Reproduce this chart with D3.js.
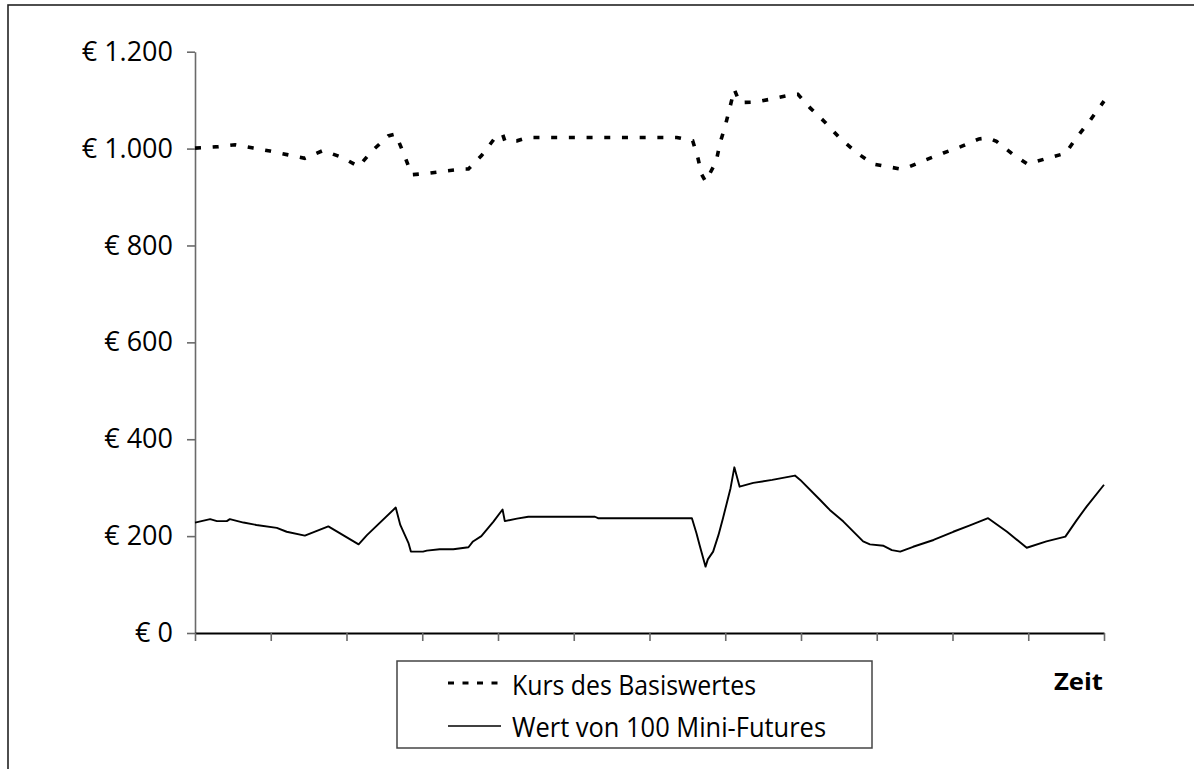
<!DOCTYPE html>
<html>
<head>
<meta charset="utf-8">
<script src="https://cdn.jsdelivr.net/npm/d3@7"></script>
<style>
  html, body { margin: 0; padding: 0; background: #fff; }
  svg { display: block; }
  text { font-family: "Open Sans", "Noto Sans", sans-serif; fill: #000; }
</style>
</head>
<body>
<svg id="chart" width="1194" height="769"></svg>
<script>
// ---- Data (time in days, values in €) ----
const seriesNames = ["Kurs des Basiswertes", "Wert von 100 Mini-Futures"];
const xLabel = "Zeit";
const yTickValues = [0, 200, 400, 600, 800, 1000, 1200];
const xTickValues = [0, 10, 20, 30, 40, 50, 60, 70, 80, 90, 100, 110, 120];

const kursDays = [0, 3.1, 5.3, 7.7, 9.9, 12.3, 14.5, 16.9, 19.4, 21.6, 23.3, 25.5, 26.5, 26.8, 27.7, 28.6, 30.8, 33.2, 35.6, 36.1, 37.8, 39.6, 40.6, 40.9, 42.5, 44.0, 63.6, 65.7, 66.4, 66.9, 67.4, 68.8, 69.3, 70.0, 70.6, 71.2, 71.9, 74.0, 76.3, 78.7, 79.6, 81.2, 83.2, 85.1, 87.4, 89.5, 92.0, 93.1, 94.2, 96.5, 98.8, 101.1, 103.5, 104.7, 105.8, 107.9, 109.9, 112.3, 114.6, 114.9, 116.4, 118.2, 120];
const kursValues = [1001, 1004, 1008, 1001, 995, 987, 980, 996, 982, 963, 994, 1026, 1030, 1018, 984, 946, 949, 954, 958, 958, 985, 1022, 1030, 1016, 1016, 1023, 1023, 1016, 980, 946, 932, 973, 1011, 1047, 1084, 1122, 1095, 1096, 1103, 1111, 1112, 1084, 1054, 1022, 991, 968, 961, 958, 962, 977, 991, 1004, 1020, 1022, 1015, 989, 968, 979, 989, 990, 1023, 1059, 1098];

const miniDays = [0, 2.0, 2.9, 4.2, 4.6, 6.4, 8.1, 10.8, 12.1, 14.5, 17.6, 21.6, 22.7, 26.5, 27.1, 28.2, 28.5, 30.1, 30.6, 32.3, 34.1, 36.1, 36.7, 37.8, 39.4, 40.6, 40.9, 42.5, 44.0, 52.8, 53.2, 65.6, 66.2, 66.6, 67.4, 67.7, 68.4, 69.1, 69.7, 70.2, 70.7, 71.2, 71.9, 73.7, 76.2, 79.2, 79.9, 82.5, 83.8, 85.6, 88.2, 89.1, 90.9, 92.0, 93.1, 94.8, 97.5, 100.1, 102.3, 104.7, 107.2, 109.8, 112.4, 114.9, 116.4, 117.7, 120];
const miniValues = [228, 235, 231, 231, 235, 228, 223, 217, 209, 201, 220, 183, 202, 259, 223, 185, 168, 168, 170, 173, 173, 177, 189, 200, 230, 255, 231, 236, 240, 240, 237, 237, 206, 182, 137, 152, 168, 202, 237, 268, 299, 342, 302, 310, 316, 325, 316, 275, 254, 230, 189, 183, 180, 171, 168, 178, 192, 209, 222, 237, 209, 176, 189, 199, 233, 261, 306];

// ---- Layout ----
const svg = d3.select("#chart");
const plot = { left: 195, right: 1104, top: 51.7, bottom: 633 };

// outer frame (right and bottom edges outside the picture)
svg.append("rect")
  .attr("x", 8).attr("y", 5).attr("width", 1300).attr("height", 900)
  .attr("fill", "none").attr("stroke", "#222").attr("stroke-width", 1.6);

const x = d3.scaleLinear().domain([0, 120]).range([plot.left, plot.right]);
const y = d3.scaleLinear().domain([0, 1200]).range([plot.bottom, plot.top]);

const de = d3.formatLocale({ decimal: ",", thousands: ".", grouping: [3], currency: ["", " €"] });
const fmt = de.format(",");

// Y axis
const yAxis = svg.append("g")
  .attr("transform", `translate(${plot.left},0)`)
  .call(d3.axisLeft(y).tickValues(yTickValues).tickSize(8).tickPadding(14)
    .tickSizeOuter(0).tickFormat(d => "€ " + fmt(d)));
yAxis.select(".domain").attr("stroke", "#6a6a6a").attr("stroke-width", 1.6);
yAxis.selectAll(".tick line").attr("stroke", "#6a6a6a").attr("stroke-width", 1.6);
yAxis.selectAll(".tick text").attr("font-size", 27).attr("font-family", "'Open Sans', sans-serif").attr("fill", "#000");

// X axis
const xAxis = svg.append("g")
  .attr("transform", `translate(0,${plot.bottom})`)
  .call(d3.axisBottom(x).tickValues(xTickValues).tickSize(8).tickSizeOuter(0).tickFormat(""));
xAxis.select(".domain").attr("stroke", "#000").attr("stroke-width", 2);
xAxis.selectAll(".tick line").attr("stroke", "#6a6a6a").attr("stroke-width", 1.6);

// Lines
const kursData = kursDays.map((d, i) => [d, kursValues[i]]);
const miniData = miniDays.map((d, i) => [d, miniValues[i]]);
const line = d3.line().x(d => x(d[0])).y(d => y(d[1]));

svg.append("path").datum(miniData)
  .attr("d", line).attr("fill", "none").attr("stroke", "#000")
  .attr("stroke-width", 1.9).attr("stroke-linejoin", "round");

svg.append("path").datum(kursData)
  .attr("d", line).attr("fill", "none").attr("stroke", "#000")
  .attr("stroke-width", 3.6).attr("stroke-dasharray", "6,11.7");

// Legend
const lg = svg.append("g");
lg.append("rect").attr("x", 397).attr("y", 661).attr("width", 475).attr("height", 87)
  .attr("fill", "#fff").attr("stroke", "#444").attr("stroke-width", 1.5);
lg.append("line").attr("x1", 448).attr("x2", 504).attr("y1", 683).attr("y2", 683)
  .attr("stroke", "#000").attr("stroke-width", 3).attr("stroke-dasharray", "6,8.5");
lg.append("line").attr("x1", 448).attr("x2", 501).attr("y1", 726).attr("y2", 726)
  .attr("stroke", "#000").attr("stroke-width", 1.5);
const legendLens = [244, 314];
lg.selectAll("text.leg").data(seriesNames).join("text")
  .attr("class", "leg")
  .attr("x", 512)
  .attr("y", (d, i) => 695 + i * 42)
  .attr("font-size", 27)
  .attr("textLength", (d, i) => legendLens[i])
  .attr("lengthAdjust", "spacingAndGlyphs")
  .text(d => d);

// X axis title
svg.append("text")
  .attr("x", 1103).attr("y", 690)
  .attr("text-anchor", "end")
  .attr("font-size", 24).attr("font-weight", "bold")
  .attr("textLength", 49).attr("lengthAdjust", "spacingAndGlyphs")
  .text(xLabel);
</script>
</body>
</html>
